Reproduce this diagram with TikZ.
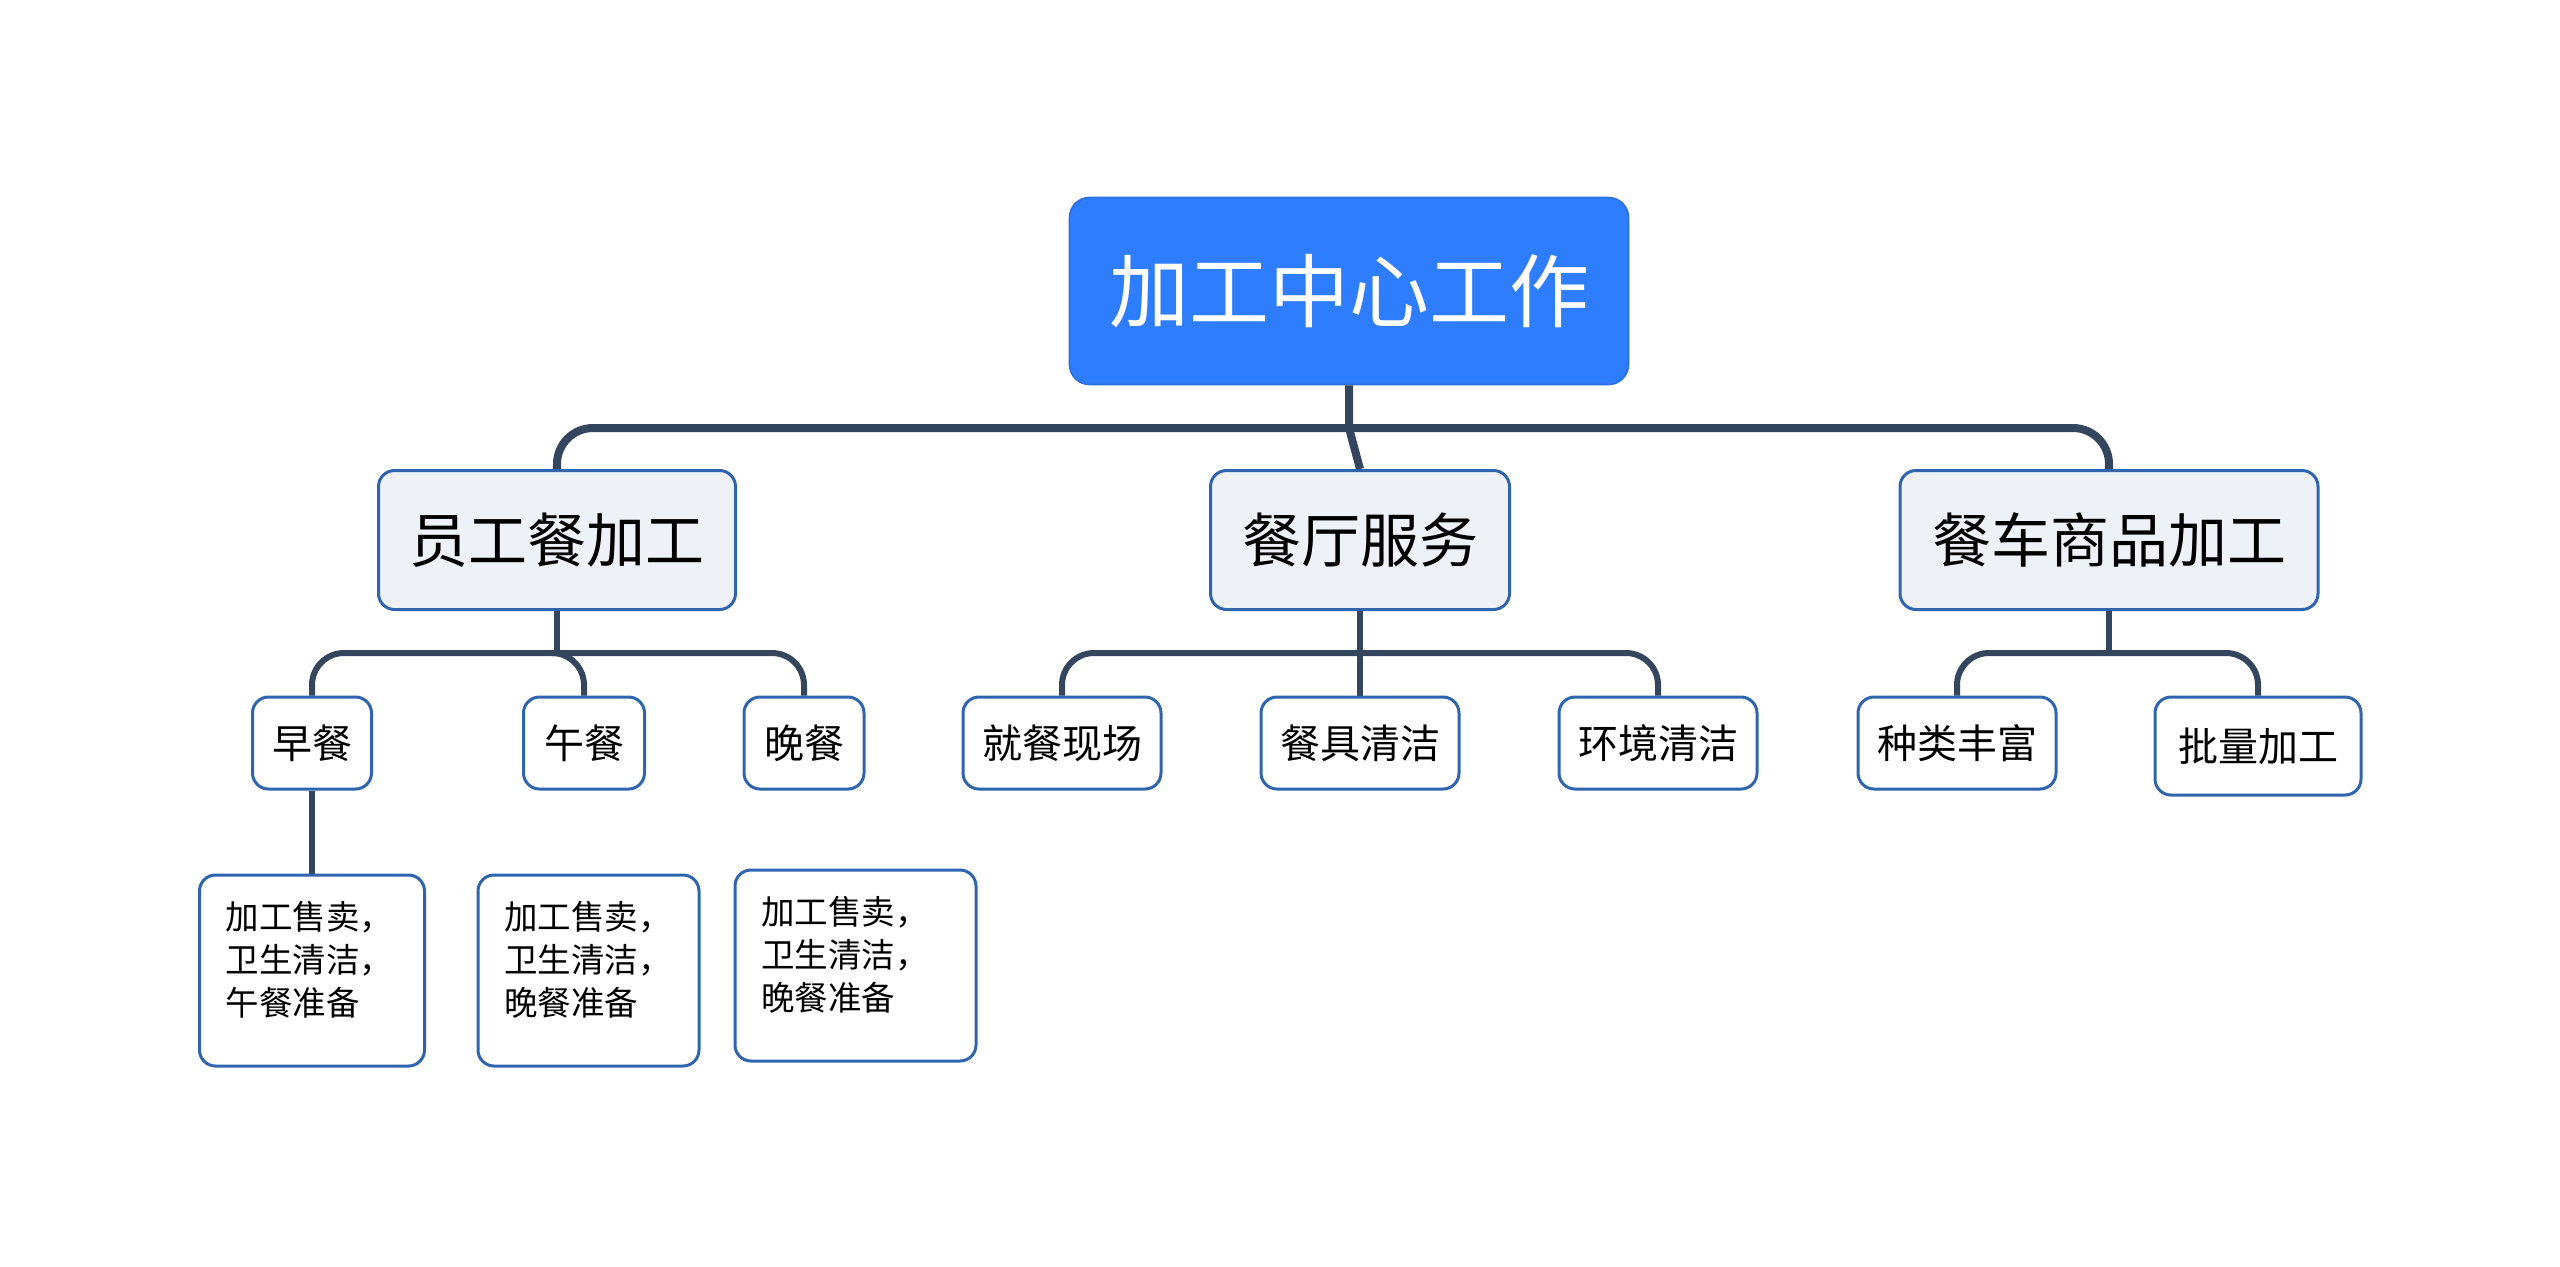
\documentclass[tikz,border=0pt]{standalone}
\usepackage{fontspec}
\setmainfont{Noto Sans CJK SC}
\definecolor{rootblue}{HTML}{2F7DFF}
\definecolor{rootedge}{HTML}{2A6FE0}
\definecolor{boxedge}{HTML}{2F65AE}
\definecolor{boxfill}{HTML}{EEF2F7}
\definecolor{linkcol}{HTML}{34455E}
\begin{document}
\begin{tikzpicture}[x=0.5pt,y=-0.5pt,
  topic/.style={draw=rootedge,fill=rootblue,text=white,line width=0.8pt,rounded corners=10pt,minimum width=279.5pt,minimum height=93.5pt,inner sep=0pt,font=\fontsize{40}{48}\selectfont},
  branch/.style={draw=boxedge,fill=boxfill,line width=1.5pt,rounded corners=8pt,minimum height=69.5pt,inner sep=0pt,font=\fontsize{29.5}{36}\selectfont},
  leaf/.style={draw=boxedge,fill=white,line width=1.5pt,rounded corners=8pt,minimum height=46pt,inner sep=0pt,font=\fontsize{20}{24}\selectfont},
  note/.style={draw=boxedge,fill=white,line width=1.5pt,rounded corners=8pt,inner sep=13pt,font=\fontsize{16.75}{21.5}\selectfont},
  trunk/.style={draw=linkcol,line width=4pt},
  twig/.style={draw=linkcol,line width=3pt}]
\useasboundingbox (0,0) rectangle (2560,1266);
\node[topic] (root) at (1349,291) {加工中心工作};
\node[branch,minimum width=178.5pt] (staff) at (557,540) {员工餐加工};
\node[branch,minimum width=149.5pt] (hall) at (1360,540) {餐厅服务};
\node[branch,minimum width=209pt] (cart) at (2109,540) {餐车商品加工};
\coordinate (j0) at (1349,428);
\draw[trunk] (root.south) -- (j0) -- (hall.north);
\draw[trunk,rounded corners=18] (j0) -| (staff.north);
\draw[trunk,rounded corners=18] (j0) -| (cart.north);
\node[leaf,minimum width=59.5pt] (zao) at (312,743) {早餐};
\node[leaf,minimum width=60.5pt] (wu) at (584,743) {午餐};
\node[leaf,minimum width=60pt] (wan) at (804,743) {晚餐};
\node[leaf,minimum width=99pt] (jiu) at (1062,743) {就餐现场};
\node[leaf,minimum width=99pt] (can) at (1360,743) {餐具清洁};
\node[leaf,minimum width=99pt] (huan) at (1658,743) {环境清洁};
\node[leaf,minimum width=99pt] (zhong) at (1957,743) {种类丰富};
\node[leaf,minimum width=103pt,minimum height=49pt] (pi) at (2258,746) {批量加工};
\coordinate (j1) at (557,653);
\coordinate (j2) at (1360,653);
\coordinate (j3) at (2109,653);
\draw[twig] (staff.south) -- (j1);
\draw[twig,rounded corners=16] (j1) -| (zao.north);
\draw[twig,rounded corners=16] (j1) -| (wu.north);
\draw[twig,rounded corners=16] (j1) -| (wan.north);
\draw[twig] (hall.south) -- (j2) -- (can.north);
\draw[twig,rounded corners=16] (j2) -| (jiu.north);
\draw[twig,rounded corners=16] (j2) -| (huan.north);
\draw[twig] (cart.south) -- (j3);
\draw[twig,rounded corners=16] (j3) -| (zhong.north);
\draw[twig,rounded corners=16] (j3) -| (pi.north);
\node[note] (zaonote) at (312,970.5) {\parbox[t][69.5pt][t]{86.5pt}{加工售卖，\\卫生清洁，\\午餐准备}};
\node[note] (wunote) at (588.5,970.5) {\parbox[t][69.5pt][t]{84.5pt}{加工售卖，\\卫生清洁，\\晚餐准备}};
\node[note] (wannote) at (855.5,965.5) {\parbox[t][69.5pt][t]{94.5pt}{加工售卖，\\卫生清洁，\\晚餐准备}};
\draw[twig] (zao.south) -- (zaonote.north);
\end{tikzpicture}
\end{document}
